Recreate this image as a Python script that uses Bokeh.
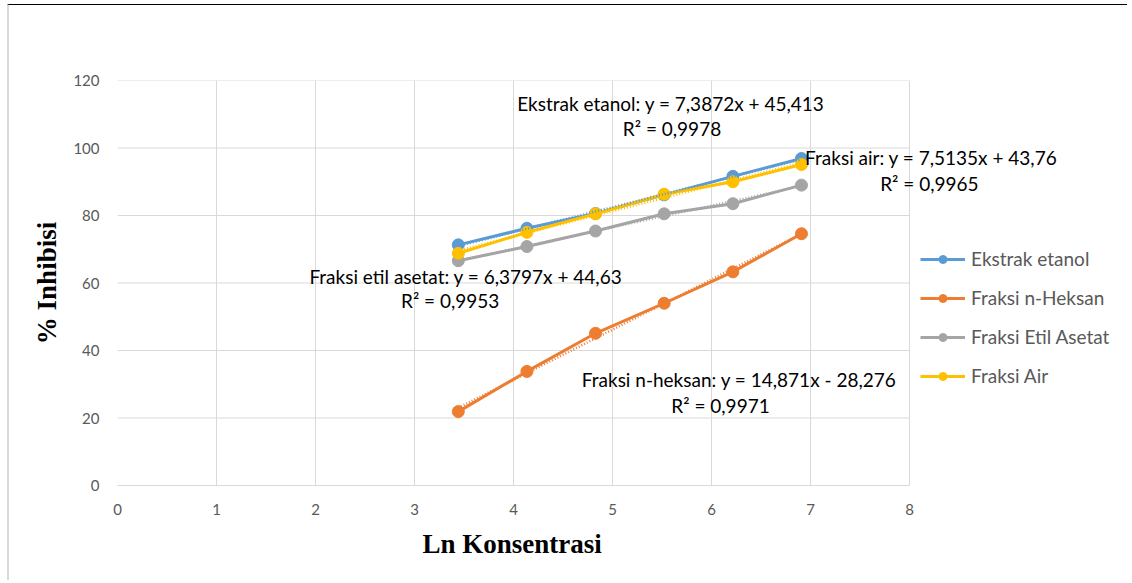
import numpy as np
from bokeh.plotting import figure
from bokeh.models import Legend, LegendItem, Label, FixedTicker, Title
from bokeh.embed import file_html
from bokeh.resources import INLINE

# ---- data ----
ln_konsentrasi = [3.442, 4.135, 4.828, 5.521, 6.215, 6.908]
ekstrak_etanol = [71.3, 76.2, 80.6, 86.1, 91.6, 96.9]
fraksi_n_heksan = [21.9, 33.8, 45.1, 54.0, 63.3, 74.6]
fraksi_etil_asetat = [66.6, 70.8, 75.4, 80.5, 83.5, 89.0]
fraksi_air = [68.8, 75.0, 80.5, 86.3, 90.0, 95.1]

series_names = ["Ekstrak etanol", "Fraksi n-Heksan", "Fraksi Etil Asetat", "Fraksi Air"]
series_values = [ekstrak_etanol, fraksi_n_heksan, fraksi_etil_asetat, fraksi_air]
colors = ["#5B9BD5", "#ED7D31", "#A5A5A5", "#FFC000"]

x_ticks = [0, 1, 2, 3, 4, 5, 6, 7, 8]
y_ticks = [0, 20, 40, 60, 80, 100, 120]

eq_lines = [
    ("Ekstrak etanol: y = 7,3872x + 45,413", 5.59, 113.2),
    ("R\u00b2 = 0,9978", 5.6, 105.8),
    ("Fraksi air: y = 7,5135x + 43,76", 8.22, 97.3),
    ("R\u00b2 = 0,9965", 8.2, 89.6),
    ("Fraksi etil asetat: y = 6,3797x + 44,63", 3.52, 61.9),
    ("R\u00b2 = 0,9953", 3.36, 54.8),
    ("Fraksi n-heksan: y = 14,871x - 28,276", 6.28, 31.4),
    ("R\u00b2 = 0,9971", 6.09, 23.7),
]

TICK_FONT = "Lato"
GRID = "#d9d9d9"
p = figure(width=1120, height=576, x_range=(0, 10.13), y_range=(0, 120),
           output_backend="svg", toolbar_location=None,
           min_border_left=108, min_border_right=9, min_border_top=75, min_border_bottom=96)
p.margin = (4, 0, 0, 7)
p.styles = {"border-top": "1px solid black", "border-left": "2px solid #d9d9d9"}

p.outline_line_color = None
p.xgrid.grid_line_color = GRID
p.ygrid.grid_line_color = None
p.xaxis.ticker = FixedTicker(ticks=x_ticks)
p.yaxis.ticker = FixedTicker(ticks=y_ticks)
p.xaxis.bounds = (min(x_ticks), max(x_ticks))
for ax in (p.xaxis[0], p.yaxis[0]):
    ax.axis_line_color = GRID
    ax.major_tick_line_color = None
    ax.minor_tick_line_color = None
    ax.major_label_text_font = TICK_FONT
    ax.major_label_text_font_size = "15px"
    ax.major_label_text_color = "#595959"
    ax.axis_label_text_font = "Liberation Serif"
    ax.axis_label_text_font_style = "bold"
    ax.axis_label_text_font_size = "27px"
    ax.axis_label_text_color = "black"
p.yaxis.axis_line_color = None
p.yaxis.axis_label = "% Inhibisi"
p.xaxis.major_label_standoff = 12
p.yaxis.major_label_standoff = 12
p.yaxis.axis_label_standoff = 8

# x-axis title centred under the 0..8 axis
p.add_layout(Title(text="Ln Konsentrasi", align="left", offset=305, standoff=19,
                   text_font="Liberation Serif", text_font_style="bold",
                   text_font_size="27px", text_color="black"), "below")

# horizontal gridlines limited to the x extent 0..8
p.segment(x0=[min(x_ticks)] * len(y_ticks), x1=[max(x_ticks)] * len(y_ticks),
          y0=y_ticks, y1=y_ticks, line_color=GRID, line_width=1)

items = []
xs = np.array(ln_konsentrasi)
for name, vals, col in zip(series_names, series_values, colors):
    ln = p.line(ln_konsentrasi, vals, line_color=col, line_width=3)
    sc = p.scatter(ln_konsentrasi, vals, size=12, fill_color=col, line_color=col)
    items.append(LegendItem(label=name, renderers=[ln, sc]))
for vals, col in zip(series_values, colors):
    m, b = np.polyfit(xs, np.array(vals), 1)
    xx = np.array([xs.min(), xs.max()])
    p.line(xx, m * xx + b, line_color=col, line_width=2.5, line_dash="1 2")

legend = Legend(items=items, location=(803, 98), border_line_color=None,
                background_fill_alpha=0, label_text_font=TICK_FONT,
                label_text_font_size="19px", label_text_color="#595959",
                glyph_width=45, glyph_height=20, label_height=20, spacing=16, padding=0,
                label_standoff=6)
p.add_layout(legend, "center")

for txt, x, y in eq_lines:
    p.add_layout(Label(x=x, y=y, text=txt, text_align="center", text_baseline="middle",
                       text_font="Lato", text_font_size="19px", text_color="black"))

open("out.html", "w").write(file_html(p, INLINE))
